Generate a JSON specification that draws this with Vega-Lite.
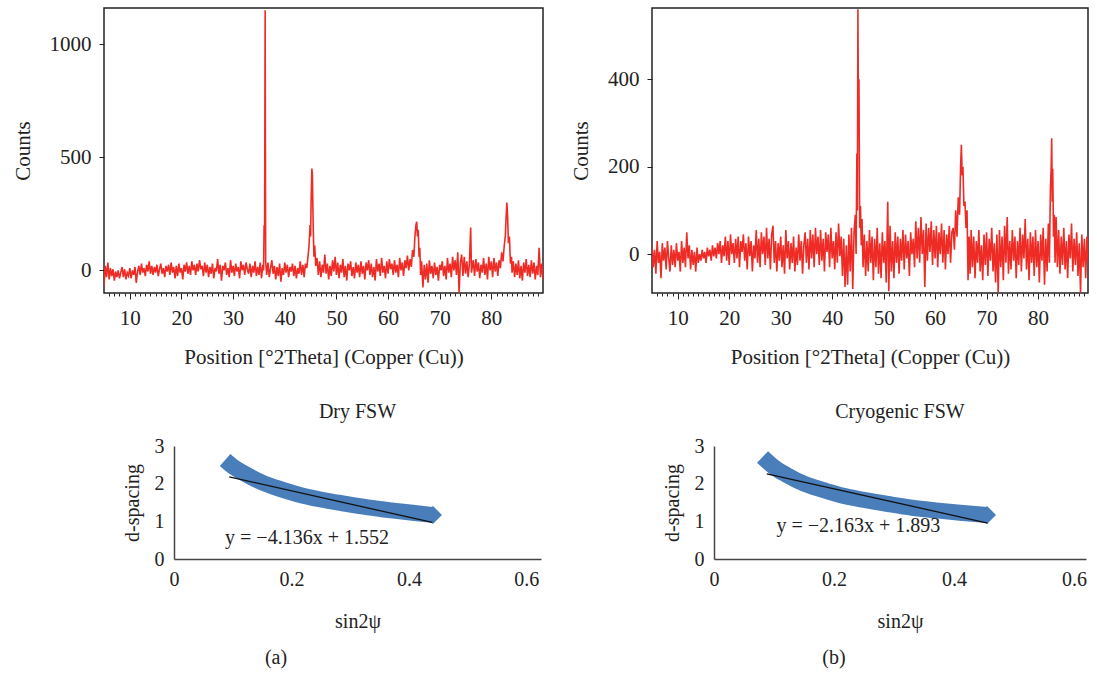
{
  "$schema": "https://vega.github.io/schema/vega-lite/v6.json",
  "padding": {"left": 11, "top": 7, "right": 4, "bottom": 4},
  "spacing": 14,
  "config": {
    "view": {"stroke": null},
    "font": "Liberation Serif",
    "axis": {"labelFont": "Liberation Serif", "titleFont": "Liberation Serif", "labelFontSize": 21, "titleFontSize": 21, "titleFontWeight": "normal", "labelColor": "#222", "titleColor": "#222", "tickColor": "#222", "domainColor": "#444", "grid": false},
    "title": {"font": "Liberation Serif", "fontWeight": "normal", "color": "#222"}
  },
  "vconcat": [
    {
      "spacing": 0,
      "hconcat": [
        {
          "width": 439, "height": 285,
          "view": {"stroke": "#222", "strokeWidth": 1.5},
          "data": {"values": [
            {"x":5,"y":-70},{"x":5.25,"y":20},{"x":5.5,"y":-30},{"x":5.75,"y":35},{"x":6,"y":-40},{"x":6.25,"y":10},{"x":6.5,"y":-25},{"x":6.75,"y":5},{"x":7,"y":-45},{"x":7.25,"y":-5},{"x":7.5,"y":-30},{"x":7.75,"y":0},{"x":8,"y":-35},{"x":8.25,"y":-10},{"x":8.5,"y":15},{"x":8.75,"y":-30},{"x":9,"y":5},{"x":9.25,"y":-40},{"x":9.5,"y":-10},{"x":9.75,"y":-25},{"x":10,"y":10},{"x":10.25,"y":-35},{"x":10.5,"y":0},{"x":10.75,"y":-20},{"x":11,"y":15},{"x":11.25,"y":-55},{"x":11.5,"y":-5},{"x":11.75,"y":20},{"x":12,"y":-20},{"x":12.25,"y":30},{"x":12.5,"y":-10},{"x":12.75,"y":10},{"x":13,"y":-25},{"x":13.25,"y":25},{"x":13.5,"y":-5},{"x":13.75,"y":40},{"x":14,"y":-15},{"x":14.25,"y":20},{"x":14.5,"y":-20},{"x":14.75,"y":15},{"x":15,"y":-10},{"x":15.25,"y":25},{"x":15.5,"y":-25},{"x":15.75,"y":5},{"x":16,"y":30},{"x":16.25,"y":-15},{"x":16.5,"y":10},{"x":16.75,"y":-30},{"x":17,"y":20},{"x":17.25,"y":-5},{"x":17.5,"y":25},{"x":17.75,"y":-20},{"x":18,"y":35},{"x":18.25,"y":-10},{"x":18.5,"y":15},{"x":18.75,"y":-35},{"x":19,"y":20},{"x":19.25,"y":-25},{"x":19.5,"y":30},{"x":19.75,"y":-10},{"x":20,"y":10},{"x":20.25,"y":-40},{"x":20.5,"y":25},{"x":20.75,"y":-5},{"x":21,"y":35},{"x":21.25,"y":-15},{"x":21.5,"y":20},{"x":21.75,"y":-20},{"x":22,"y":40},{"x":22.25,"y":0},{"x":22.5,"y":25},{"x":22.75,"y":-20},{"x":23,"y":30},{"x":23.25,"y":-5},{"x":23.5,"y":45},{"x":23.75,"y":5},{"x":24,"y":20},{"x":24.25,"y":-25},{"x":24.5,"y":35},{"x":24.75,"y":-10},{"x":25,"y":25},{"x":25.25,"y":-30},{"x":25.5,"y":15},{"x":25.75,"y":-15},{"x":26,"y":30},{"x":26.25,"y":-35},{"x":26.5,"y":10},{"x":26.75,"y":-5},{"x":27,"y":50},{"x":27.25,"y":-15},{"x":27.5,"y":25},{"x":27.75,"y":-45},{"x":28,"y":20},{"x":28.25,"y":0},{"x":28.5,"y":35},{"x":28.75,"y":-20},{"x":29,"y":10},{"x":29.25,"y":-30},{"x":29.5,"y":45},{"x":29.75,"y":-10},{"x":30,"y":20},{"x":30.25,"y":-25},{"x":30.5,"y":30},{"x":30.75,"y":-5},{"x":31,"y":15},{"x":31.25,"y":-35},{"x":31.5,"y":40},{"x":31.75,"y":0},{"x":32,"y":25},{"x":32.25,"y":-20},{"x":32.5,"y":35},{"x":32.75,"y":5},{"x":33,"y":-15},{"x":33.25,"y":30},{"x":33.5,"y":-30},{"x":33.75,"y":20},{"x":34,"y":-10},{"x":34.25,"y":40},{"x":34.5,"y":-25},{"x":34.75,"y":15},{"x":35,"y":-20},{"x":35.25,"y":35},{"x":35.5,"y":-35},{"x":35.75,"y":25},{"x":35.9,"y":0},{"x":36,"y":200},{"x":36.1,"y":180},{"x":36.2,"y":1150},{"x":36.3,"y":40},{"x":36.5,"y":-20},{"x":36.75,"y":35},{"x":37,"y":-30},{"x":37.25,"y":10},{"x":37.5,"y":45},{"x":37.75,"y":-15},{"x":38,"y":20},{"x":38.25,"y":-40},{"x":38.5,"y":15},{"x":38.75,"y":-25},{"x":39,"y":30},{"x":39.25,"y":-50},{"x":39.5,"y":10},{"x":39.75,"y":-20},{"x":40,"y":35},{"x":40.25,"y":-10},{"x":40.5,"y":25},{"x":40.75,"y":-30},{"x":41,"y":15},{"x":41.25,"y":-5},{"x":41.5,"y":30},{"x":41.75,"y":-25},{"x":42,"y":20},{"x":42.25,"y":-35},{"x":42.5,"y":10},{"x":42.75,"y":-15},{"x":43,"y":40},{"x":43.25,"y":-20},{"x":43.5,"y":25},{"x":43.75,"y":-30},{"x":44,"y":30},{"x":44.25,"y":10},{"x":44.5,"y":60},{"x":44.7,"y":110},{"x":44.9,"y":200},{"x":45,"y":150},{"x":45.1,"y":300},{"x":45.25,"y":450},{"x":45.35,"y":420},{"x":45.5,"y":200},{"x":45.65,"y":60},{"x":45.8,"y":110},{"x":46,"y":20},{"x":46.25,"y":55},{"x":46.5,"y":-20},{"x":46.75,"y":40},{"x":47,"y":-30},{"x":47.25,"y":25},{"x":47.5,"y":-10},{"x":47.75,"y":70},{"x":48,"y":-15},{"x":48.25,"y":30},{"x":48.5,"y":-40},{"x":48.75,"y":20},{"x":49,"y":-25},{"x":49.25,"y":45},{"x":49.5,"y":-5},{"x":49.75,"y":60},{"x":50,"y":-20},{"x":50.25,"y":35},{"x":50.5,"y":-35},{"x":50.75,"y":25},{"x":51,"y":-10},{"x":51.25,"y":50},{"x":51.5,"y":-30},{"x":51.75,"y":20},{"x":52,"y":-45},{"x":52.25,"y":30},{"x":52.5,"y":0},{"x":52.75,"y":40},{"x":53,"y":-25},{"x":53.25,"y":15},{"x":53.5,"y":-35},{"x":53.75,"y":35},{"x":54,"y":-10},{"x":54.25,"y":25},{"x":54.5,"y":-30},{"x":54.75,"y":40},{"x":55,"y":-15},{"x":55.25,"y":20},{"x":55.5,"y":-40},{"x":55.75,"y":35},{"x":56,"y":0},{"x":56.25,"y":45},{"x":56.5,"y":-20},{"x":56.75,"y":30},{"x":57,"y":-30},{"x":57.25,"y":15},{"x":57.5,"y":-45},{"x":57.75,"y":50},{"x":58,"y":-5},{"x":58.25,"y":30},{"x":58.5,"y":-25},{"x":58.75,"y":55},{"x":59,"y":-10},{"x":59.25,"y":20},{"x":59.5,"y":-35},{"x":59.75,"y":40},{"x":60,"y":-15},{"x":60.25,"y":50},{"x":60.5,"y":5},{"x":60.75,"y":30},{"x":61,"y":-20},{"x":61.25,"y":45},{"x":61.5,"y":-10},{"x":61.75,"y":25},{"x":62,"y":-30},{"x":62.25,"y":55},{"x":62.5,"y":0},{"x":62.75,"y":35},{"x":63,"y":-25},{"x":63.25,"y":45},{"x":63.5,"y":10},{"x":63.75,"y":65},{"x":64,"y":0},{"x":64.25,"y":50},{"x":64.5,"y":15},{"x":64.75,"y":90},{"x":65,"y":60},{"x":65.2,"y":150},{"x":65.4,"y":200},{"x":65.55,"y":215},{"x":65.7,"y":150},{"x":65.85,"y":180},{"x":66,"y":60},{"x":66.15,"y":100},{"x":66.3,"y":-20},{"x":66.5,"y":40},{"x":66.75,"y":-75},{"x":67,"y":25},{"x":67.25,"y":-40},{"x":67.5,"y":30},{"x":67.75,"y":-55},{"x":68,"y":45},{"x":68.25,"y":-15},{"x":68.5,"y":20},{"x":68.75,"y":-35},{"x":69,"y":35},{"x":69.25,"y":-20},{"x":69.5,"y":15},{"x":69.75,"y":-45},{"x":70,"y":25},{"x":70.25,"y":0},{"x":70.5,"y":40},{"x":70.75,"y":-25},{"x":71,"y":20},{"x":71.25,"y":-40},{"x":71.5,"y":55},{"x":71.75,"y":-10},{"x":72,"y":30},{"x":72.25,"y":-30},{"x":72.5,"y":60},{"x":72.75,"y":0},{"x":73,"y":45},{"x":73.25,"y":-20},{"x":73.5,"y":80},{"x":73.75,"y":-100},{"x":74,"y":35},{"x":74.25,"y":70},{"x":74.5,"y":-25},{"x":74.75,"y":60},{"x":75,"y":-15},{"x":75.25,"y":40},{"x":75.5,"y":-30},{"x":75.75,"y":30},{"x":76,"y":190},{"x":76.15,"y":-10},{"x":76.5,"y":45},{"x":76.75,"y":-25},{"x":77,"y":50},{"x":77.25,"y":-5},{"x":77.5,"y":35},{"x":77.75,"y":-35},{"x":78,"y":25},{"x":78.25,"y":-10},{"x":78.5,"y":55},{"x":78.75,"y":-20},{"x":79,"y":30},{"x":79.25,"y":-40},{"x":79.5,"y":60},{"x":79.75,"y":0},{"x":80,"y":40},{"x":80.25,"y":-30},{"x":80.5,"y":55},{"x":80.75,"y":-5},{"x":81,"y":35},{"x":81.25,"y":-25},{"x":81.5,"y":45},{"x":81.75,"y":10},{"x":82,"y":80},{"x":82.25,"y":40},{"x":82.5,"y":110},{"x":82.7,"y":150},{"x":82.85,"y":230},{"x":83,"y":300},{"x":83.15,"y":240},{"x":83.3,"y":120},{"x":83.5,"y":150},{"x":83.7,"y":30},{"x":83.9,"y":60},{"x":84,"y":-10},{"x":84.25,"y":40},{"x":84.5,"y":-30},{"x":84.75,"y":30},{"x":85,"y":-20},{"x":85.25,"y":45},{"x":85.5,"y":-35},{"x":85.75,"y":20},{"x":86,"y":-45},{"x":86.25,"y":35},{"x":86.5,"y":-10},{"x":86.75,"y":50},{"x":87,"y":-25},{"x":87.25,"y":25},{"x":87.5,"y":-30},{"x":87.75,"y":45},{"x":88,"y":-15},{"x":88.25,"y":35},{"x":88.5,"y":-40},{"x":88.75,"y":20},{"x":89,"y":-20},{"x":89.25,"y":100},{"x":89.5,"y":-30},{"x":89.75,"y":30},{"x":90,"y":-40}
          ]},
          "mark": {"type": "line", "color": "#ee2b24", "strokeWidth": 1.6, "clip": true},
          "encoding": {
            "x": {"field": "x", "type": "quantitative", "scale": {"domain": [5, 90], "nice": false, "zero": false},
              "axis": {"title": "Position [°2Theta] (Copper (Cu))", "values": [6,7,8,9,10,11,12,13,14,15,16,17,18,19,20,21,22,23,24,25,26,27,28,29,30,31,32,33,34,35,36,37,38,39,40,41,42,43,44,45,46,47,48,49,50,51,52,53,54,55,56,57,58,59,60,61,62,63,64,65,66,67,68,69,70,71,72,73,74,75,76,77,78,79,80,81,82,83,84,85,86,87,88,89],
                "labelExpr": "datum.value % 10 === 0 ? datum.label : ''", "tickSize": {"condition": {"test": "datum.value % 10 === 0", "value": 6}, "value": 3},
                "domain": false, "labelOverlap": false, "labelFlush": false, "labelPadding": 8, "titlePadding": 18}},
            "y": {"field": "y", "type": "quantitative", "scale": {"domain": [-100, 1160], "nice": false, "zero": false},
              "axis": {"title": "Counts", "values": [0, 500, 1000], "format": "d", "tickSize": 5, "domain": false, "labelPadding": 8, "titlePadding": 16}}
          }
        },
        {"width": 25, "height": 380, "data": {"values": [{}]}, "mark": {"type": "point", "opacity": 0}},
        {
          "width": 436, "height": 285,
          "view": {"stroke": "#222", "strokeWidth": 1.5},
          "data": {"values": [
            {"x":5,"y":20},{"x":5.25,"y":-30},{"x":5.5,"y":10},{"x":5.75,"y":-45},{"x":6,"y":30},{"x":6.25,"y":-20},{"x":6.5,"y":5},{"x":6.75,"y":-55},{"x":7,"y":25},{"x":7.25,"y":-15},{"x":7.5,"y":15},{"x":7.75,"y":-35},{"x":8,"y":30},{"x":8.25,"y":-10},{"x":8.5,"y":-40},{"x":8.75,"y":20},{"x":9,"y":-25},{"x":9.25,"y":10},{"x":9.5,"y":-30},{"x":9.75,"y":25},{"x":10,"y":-15},{"x":10.25,"y":5},{"x":10.5,"y":-40},{"x":10.75,"y":30},{"x":11,"y":-20},{"x":11.25,"y":15},{"x":11.5,"y":-30},{"x":11.75,"y":50},{"x":12,"y":-10},{"x":12.25,"y":20},{"x":12.5,"y":-35},{"x":12.75,"y":10},{"x":13,"y":-25},{"x":13.25,"y":5},{"x":13.5,"y":-40},{"x":13.75,"y":15},{"x":14,"y":-20},{"x":14.25,"y":0},{"x":14.5,"y":-15},{"x":14.75,"y":10},{"x":15,"y":-10},{"x":15.25,"y":5},{"x":15.5,"y":-20},{"x":15.75,"y":15},{"x":16,"y":-5},{"x":16.25,"y":10},{"x":16.5,"y":-15},{"x":16.75,"y":20},{"x":17,"y":-5},{"x":17.25,"y":15},{"x":17.5,"y":-10},{"x":17.75,"y":25},{"x":18,"y":0},{"x":18.25,"y":30},{"x":18.5,"y":-20},{"x":18.75,"y":20},{"x":19,"y":-5},{"x":19.25,"y":40},{"x":19.5,"y":-15},{"x":19.75,"y":30},{"x":20,"y":-25},{"x":20.25,"y":45},{"x":20.5,"y":0},{"x":20.75,"y":25},{"x":21,"y":-20},{"x":21.25,"y":35},{"x":21.5,"y":-10},{"x":21.75,"y":40},{"x":22,"y":-30},{"x":22.25,"y":30},{"x":22.5,"y":5},{"x":22.75,"y":45},{"x":23,"y":-15},{"x":23.25,"y":25},{"x":23.5,"y":-35},{"x":23.75,"y":40},{"x":24,"y":-5},{"x":24.25,"y":30},{"x":24.5,"y":-40},{"x":24.75,"y":20},{"x":25,"y":-10},{"x":25.25,"y":55},{"x":25.5,"y":-20},{"x":25.75,"y":35},{"x":26,"y":-30},{"x":26.25,"y":50},{"x":26.5,"y":0},{"x":26.75,"y":40},{"x":27,"y":-25},{"x":27.25,"y":60},{"x":27.5,"y":-10},{"x":27.75,"y":35},{"x":28,"y":-35},{"x":28.25,"y":45},{"x":28.5,"y":65},{"x":28.75,"y":-20},{"x":29,"y":30},{"x":29.25,"y":-40},{"x":29.5,"y":25},{"x":29.75,"y":-15},{"x":30,"y":40},{"x":30.25,"y":-30},{"x":30.5,"y":20},{"x":30.75,"y":-45},{"x":31,"y":55},{"x":31.25,"y":-10},{"x":31.5,"y":30},{"x":31.75,"y":-35},{"x":32,"y":25},{"x":32.25,"y":-20},{"x":32.5,"y":40},{"x":32.75,"y":-40},{"x":33,"y":15},{"x":33.25,"y":-25},{"x":33.5,"y":45},{"x":33.75,"y":-15},{"x":34,"y":30},{"x":34.25,"y":-45},{"x":34.5,"y":20},{"x":34.75,"y":50},{"x":35,"y":-20},{"x":35.25,"y":35},{"x":35.5,"y":-35},{"x":35.75,"y":55},{"x":36,"y":-10},{"x":36.25,"y":45},{"x":36.5,"y":-30},{"x":36.75,"y":60},{"x":37,"y":0},{"x":37.25,"y":40},{"x":37.5,"y":-25},{"x":37.75,"y":55},{"x":38,"y":-15},{"x":38.25,"y":35},{"x":38.5,"y":-40},{"x":38.75,"y":50},{"x":39,"y":5},{"x":39.25,"y":45},{"x":39.5,"y":-30},{"x":39.75,"y":60},{"x":40,"y":-10},{"x":40.25,"y":30},{"x":40.5,"y":-35},{"x":40.75,"y":50},{"x":41,"y":-20},{"x":41.25,"y":70},{"x":41.5,"y":-5},{"x":41.75,"y":40},{"x":42,"y":-50},{"x":42.25,"y":35},{"x":42.5,"y":-75},{"x":42.75,"y":20},{"x":43,"y":-70},{"x":43.25,"y":45},{"x":43.5,"y":-40},{"x":43.75,"y":60},{"x":44,"y":-80},{"x":44.25,"y":50},{"x":44.5,"y":90},{"x":44.65,"y":0},{"x":44.8,"y":230},{"x":44.9,"y":100},{"x":45,"y":560},{"x":45.1,"y":300},{"x":45.2,"y":400},{"x":45.35,"y":60},{"x":45.5,"y":110},{"x":45.65,"y":20},{"x":45.8,"y":80},{"x":46,"y":-30},{"x":46.25,"y":45},{"x":46.5,"y":-50},{"x":46.75,"y":30},{"x":47,"y":-40},{"x":47.25,"y":55},{"x":47.5,"y":-20},{"x":47.75,"y":40},{"x":48,"y":-60},{"x":48.25,"y":35},{"x":48.5,"y":-30},{"x":48.75,"y":60},{"x":49,"y":-45},{"x":49.25,"y":25},{"x":49.5,"y":-55},{"x":49.75,"y":50},{"x":50,"y":-20},{"x":50.25,"y":30},{"x":50.5,"y":-65},{"x":50.8,"y":120},{"x":51,"y":-85},{"x":51.25,"y":65},{"x":51.5,"y":-40},{"x":51.75,"y":30},{"x":52,"y":-55},{"x":52.25,"y":50},{"x":52.5,"y":-20},{"x":52.75,"y":40},{"x":53,"y":-45},{"x":53.25,"y":35},{"x":53.5,"y":-15},{"x":53.75,"y":55},{"x":54,"y":-35},{"x":54.25,"y":45},{"x":54.5,"y":-10},{"x":54.75,"y":30},{"x":55,"y":-50},{"x":55.25,"y":50},{"x":55.5,"y":0},{"x":55.75,"y":35},{"x":56,"y":-30},{"x":56.25,"y":75},{"x":56.5,"y":-10},{"x":56.75,"y":60},{"x":57,"y":-20},{"x":57.25,"y":85},{"x":57.5,"y":0},{"x":57.75,"y":55},{"x":58,"y":-75},{"x":58.25,"y":70},{"x":58.5,"y":-15},{"x":58.75,"y":60},{"x":59,"y":5},{"x":59.25,"y":75},{"x":59.5,"y":-25},{"x":59.75,"y":55},{"x":60,"y":-10},{"x":60.25,"y":65},{"x":60.5,"y":-30},{"x":60.75,"y":50},{"x":61,"y":0},{"x":61.25,"y":70},{"x":61.5,"y":-20},{"x":61.75,"y":55},{"x":62,"y":-35},{"x":62.25,"y":45},{"x":62.5,"y":0},{"x":62.75,"y":65},{"x":63,"y":-20},{"x":63.25,"y":50},{"x":63.5,"y":60},{"x":63.75,"y":10},{"x":64,"y":100},{"x":64.25,"y":40},{"x":64.5,"y":130},{"x":64.75,"y":90},{"x":64.95,"y":200},{"x":65.1,"y":250},{"x":65.25,"y":180},{"x":65.4,"y":200},{"x":65.6,"y":110},{"x":65.8,"y":120},{"x":66,"y":60},{"x":66.2,"y":100},{"x":66.4,"y":-60},{"x":66.6,"y":40},{"x":66.8,"y":-45},{"x":67,"y":55},{"x":67.25,"y":-30},{"x":67.5,"y":40},{"x":67.75,"y":-55},{"x":68,"y":30},{"x":68.25,"y":-20},{"x":68.5,"y":55},{"x":68.75,"y":-40},{"x":69,"y":20},{"x":69.25,"y":-60},{"x":69.5,"y":45},{"x":69.75,"y":-25},{"x":70,"y":50},{"x":70.25,"y":-50},{"x":70.5,"y":35},{"x":70.75,"y":-15},{"x":71,"y":60},{"x":71.25,"y":-40},{"x":71.5,"y":25},{"x":71.75,"y":-65},{"x":72,"y":45},{"x":72.25,"y":-88},{"x":72.5,"y":55},{"x":72.75,"y":-30},{"x":73,"y":40},{"x":73.25,"y":-60},{"x":73.5,"y":65},{"x":73.75,"y":-20},{"x":74,"y":85},{"x":74.25,"y":-45},{"x":74.5,"y":30},{"x":74.75,"y":-35},{"x":75,"y":55},{"x":75.25,"y":-15},{"x":75.5,"y":40},{"x":75.75,"y":-55},{"x":76,"y":30},{"x":76.25,"y":-25},{"x":76.5,"y":60},{"x":76.75,"y":-40},{"x":77,"y":45},{"x":77.25,"y":-10},{"x":77.5,"y":80},{"x":77.75,"y":-35},{"x":78,"y":35},{"x":78.25,"y":-60},{"x":78.5,"y":50},{"x":78.75,"y":-20},{"x":79,"y":40},{"x":79.25,"y":-50},{"x":79.5,"y":55},{"x":79.75,"y":-30},{"x":80,"y":30},{"x":80.25,"y":-65},{"x":80.5,"y":45},{"x":80.75,"y":-15},{"x":81,"y":60},{"x":81.25,"y":-70},{"x":81.5,"y":35},{"x":81.75,"y":-40},{"x":82,"y":70},{"x":82.2,"y":-20},{"x":82.4,"y":150},{"x":82.55,"y":200},{"x":82.65,"y":265},{"x":82.75,"y":120},{"x":82.85,"y":195},{"x":83,"y":40},{"x":83.15,"y":90},{"x":83.3,"y":-20},{"x":83.5,"y":85},{"x":83.75,"y":-30},{"x":84,"y":55},{"x":84.25,"y":-45},{"x":84.5,"y":40},{"x":84.75,"y":-25},{"x":85,"y":60},{"x":85.25,"y":-35},{"x":85.5,"y":30},{"x":85.75,"y":-55},{"x":86,"y":45},{"x":86.25,"y":-10},{"x":86.5,"y":70},{"x":86.75,"y":-40},{"x":87,"y":35},{"x":87.25,"y":-25},{"x":87.5,"y":50},{"x":87.75,"y":-50},{"x":88,"y":25},{"x":88.25,"y":-88},{"x":88.5,"y":45},{"x":88.75,"y":-30},{"x":89,"y":35},{"x":89.25,"y":-55},{"x":89.5,"y":40},{"x":89.75,"y":-20}
          ]},
          "mark": {"type": "line", "color": "#ee2b24", "strokeWidth": 1.6, "clip": true},
          "encoding": {
            "x": {"field": "x", "type": "quantitative", "scale": {"domain": [5, 89.7], "nice": false, "zero": false},
              "axis": {"title": "Position [°2Theta] (Copper (Cu))", "values": [6,7,8,9,10,11,12,13,14,15,16,17,18,19,20,21,22,23,24,25,26,27,28,29,30,31,32,33,34,35,36,37,38,39,40,41,42,43,44,45,46,47,48,49,50,51,52,53,54,55,56,57,58,59,60,61,62,63,64,65,66,67,68,69,70,71,72,73,74,75,76,77,78,79,80,81,82,83,84,85,86,87,88,89],
                "labelExpr": "datum.value % 10 === 0 ? datum.label : ''", "tickSize": {"condition": {"test": "datum.value % 10 === 0", "value": 6}, "value": 3},
                "domain": false, "labelOverlap": false, "labelFlush": false, "labelPadding": 8, "titlePadding": 18}},
            "y": {"field": "y", "type": "quantitative", "scale": {"domain": [-89, 563], "nice": false, "zero": false},
              "axis": {"title": "Counts", "values": [0, 200, 400], "format": "d", "tickSize": 5, "domain": false, "labelPadding": 8, "titlePadding": 16}}
          }
        }
      ]
    },
    {
      "spacing": 0,
      "hconcat": [
        {"width": 18, "height": 1, "data": {"values": [{}]}, "mark": {"type": "point", "opacity": 0}},
        {
          "width": 367, "height": 113,
          "title": {"text": "Dry FSW", "fontSize": 20, "anchor": "middle", "frame": "group", "offset": 14},
          "encoding": {
            "x": {"field": "s", "type": "quantitative", "scale": {"domain": [0, 0.625], "nice": false, "zero": false},
              "axis": {"title": "sin2ψ", "values": [0, 0.2, 0.4, 0.6], "format": "~g", "ticks": false, "tickSize": 0, "domainWidth": 1.5, "labelPadding": 10, "titlePadding": 22, "labelFlush": false, "labelFontSize": 20, "titleFontSize": 20}},
            "y": {"field": "d", "type": "quantitative", "scale": {"domain": [0, 3], "nice": false, "zero": false},
              "axis": {"title": "d-spacing", "values": [0, 1, 2, 3], "ticks": false, "tickSize": 0, "domainWidth": 1.5, "labelPadding": 10, "titlePadding": 12, "labelFontSize": 20, "titleFontSize": 20}}
          },
          "layer": [
            {"data": {"values": [{"s":0.087,"d":2.63},{"s":0.1,"d":2.46},{"s":0.12,"d":2.27},{"s":0.15,"d":2.03},{"s":0.18,"d":1.86},{"s":0.21,"d":1.72},{"s":0.25,"d":1.58},{"s":0.29,"d":1.47},{"s":0.33,"d":1.37},{"s":0.37,"d":1.29},{"s":0.41,"d":1.22},{"s":0.441,"d":1.17}]},
             "mark": {"type": "line", "color": "#4a7ebb", "strokeWidth": 16, "strokeCap": "butt", "strokeJoin": "round", "interpolate": "monotone"}},
            {"data": {"values": [{"s":0.441,"d":1.17}]},
             "mark": {"type": "point", "shape": "diamond", "filled": true, "size": 324, "color": "#4a7ebb", "opacity": 1}},
            {"data": {"values": [{"s":0.094,"d":2.18},{"s":0.44,"d":0.97}]},
             "mark": {"type": "line", "color": "#111", "strokeWidth": 1.3, "strokeJoin": "round"}},
            {"data": {"values": [{"s":0.087,"d":0.55,"label":"y = −4.136x + 1.552"}]},
             "mark": {"type": "text", "align": "left", "baseline": "middle", "fontSize": 20, "font": "Liberation Serif", "color": "#222"},
             "encoding": {"text": {"field": "label"}}}
          ]
        },
        {"width": 121, "height": 1, "data": {"values": [{}]}, "mark": {"type": "point", "opacity": 0}},
        {
          "width": 372, "height": 113,
          "title": {"text": "Cryogenic FSW", "fontSize": 20, "anchor": "middle", "frame": "group", "offset": 14},
          "encoding": {
            "x": {"field": "s", "type": "quantitative", "scale": {"domain": [0, 0.62], "nice": false, "zero": false},
              "axis": {"title": "sin2ψ", "values": [0, 0.2, 0.4, 0.6], "format": "~g", "ticks": false, "tickSize": 0, "domainWidth": 1.5, "labelPadding": 10, "titlePadding": 22, "labelFlush": false, "labelFontSize": 20, "titleFontSize": 20}},
            "y": {"field": "d", "type": "quantitative", "scale": {"domain": [0, 3], "nice": false, "zero": false},
              "axis": {"title": "d-spacing", "values": [0, 1, 2, 3], "ticks": false, "tickSize": 0, "domainWidth": 1.5, "labelPadding": 10, "titlePadding": 12, "labelFontSize": 20, "titleFontSize": 20}}
          },
          "layer": [
            {"data": {"values": [{"s":0.081,"d":2.71},{"s":0.1,"d":2.44},{"s":0.12,"d":2.24},{"s":0.15,"d":2.0},{"s":0.18,"d":1.84},{"s":0.21,"d":1.7},{"s":0.25,"d":1.57},{"s":0.29,"d":1.46},{"s":0.33,"d":1.36},{"s":0.37,"d":1.29},{"s":0.41,"d":1.23},{"s":0.455,"d":1.17}]},
             "mark": {"type": "line", "color": "#4a7ebb", "strokeWidth": 16, "strokeCap": "butt", "strokeJoin": "round", "interpolate": "monotone"}},
            {"data": {"values": [{"s":0.455,"d":1.17}]},
             "mark": {"type": "point", "shape": "diamond", "filled": true, "size": 324, "color": "#4a7ebb", "opacity": 1}},
            {"data": {"values": [{"s":0.088,"d":2.26},{"s":0.456,"d":0.955}]},
             "mark": {"type": "line", "color": "#111", "strokeWidth": 1.3, "strokeJoin": "round"}},
            {"data": {"values": [{"s":0.104,"d":0.88,"label":"y = −2.163x + 1.893"}]},
             "mark": {"type": "text", "align": "left", "baseline": "middle", "fontSize": 20, "font": "Liberation Serif", "color": "#222"},
             "encoding": {"text": {"field": "label"}}}
          ]
        }
      ]
    },
    {
      "spacing": 0,
      "hconcat": [
        {"width": 344, "height": 19, "data": {"values": [{"label": "(a)"}]}, "mark": {"type": "text", "fontSize": 20, "font": "Liberation Serif", "color": "#222", "baseline": "middle"}, "encoding": {"text": {"field": "label"}}},
        {"width": 336, "height": 1, "data": {"values": [{}]}, "mark": {"type": "point", "opacity": 0}},
        {"width": 100, "height": 19, "data": {"values": [{"label": "(b)"}]}, "mark": {"type": "text", "fontSize": 20, "font": "Liberation Serif", "color": "#222", "baseline": "middle"}, "encoding": {"text": {"field": "label"}}}
      ]
    }
  ]
}
